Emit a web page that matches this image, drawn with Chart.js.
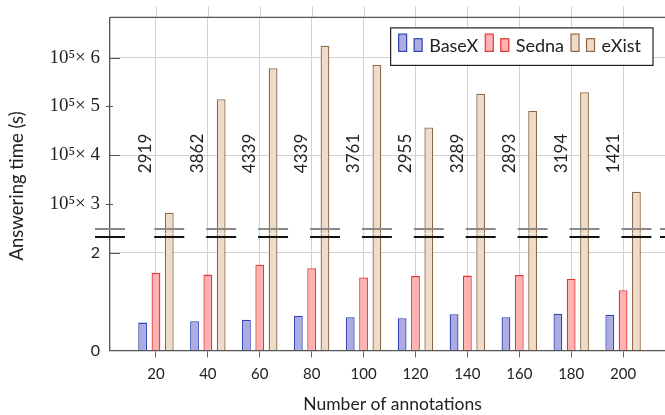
<!DOCTYPE html>
<html>
<head>
<meta charset="utf-8">
<script src="https://cdn.jsdelivr.net/npm/chart.js@4.4.1/dist/chart.umd.min.js"></script>
<style>
  html, body { margin: 0; padding: 0; overflow: hidden; background: #fff; }
  #wrap { width: 676px; height: 415px; position: relative; }
</style>
</head>
<body>
<div id="wrap"><canvas id="timeChart"></canvas></div>
<script>
// values
const annotations = [20, 40, 60, 80, 100, 120, 140, 160, 180, 200];
const basexTimes = [0.57, 0.60, 0.63, 0.71, 0.68, 0.66, 0.74, 0.68, 0.75, 0.73];
const sednaTimes = [1.59, 1.55, 1.75, 1.68, 1.49, 1.52, 1.53, 1.54, 1.46, 1.23];
const existTimes = [283000, 515000, 578000, 624000, 585000, 457000, 526000, 491000, 529000, 326000];
const barNotes = [2919, 3862, 4339, 4339, 3761, 2955, 3289, 2893, 3194, 1421];
const lowTicks = [0, 2];
const highTicks = [300000, 400000, 500000, 600000];

const SANS = 'Lato, "Open Sans", sans-serif';
const SERIF = '"Liberation Serif", "DejaVu Serif", serif';
const TEXT = '#222';
const GRID = '#d2d2d2';
const AXIS = '#555';

const colors = {
  BaseX: { fill: 'rgb(172,172,226)', line: 'rgb(50,70,178)' },
  Sedna: { fill: 'rgb(255,178,178)', line: 'rgb(232,52,52)' },
  eXist: { fill: 'rgb(238,220,200)', line: 'rgb(140,104,70)' }
};

function points(values) {
  return annotations.map((a, i) => ({ x: a, y: values[i] }));
}

function barSet(label, values, axis, stack) {
  return {
    label: label,
    data: points(values),
    yAxisID: axis,
    stack: stack,
    backgroundColor: colors[label].fill,
    borderColor: colors[label].line,
    borderWidth: 1.3,
    categoryPercentage: 0.77,
    barPercentage: 0.66
  };
}

// broken axis extras: frame, break marks, notes, y title, legend
const extras = {
  id: 'extras',
  beforeDatasetDraw(chart, args) {
    const ys = args.meta.yScale;
    const ctx = chart.ctx;
    ctx.save();
    ctx.beginPath();
    ctx.rect(chart.chartArea.left, ys.top, chart.chartArea.right - chart.chartArea.left, ys.bottom - ys.top);
    ctx.clip();
  },
  afterDatasetDraw(chart) {
    chart.ctx.restore();
  },
  afterDraw(chart) {
    const ctx = chart.ctx;
    const area = chart.chartArea;
    const x = chart.scales.x;
    const yLow = chart.scales.yLow;
    const yHigh = chart.scales.yHigh;
    ctx.save();

    // grid stubs above the frame
    ctx.strokeStyle = GRID;
    ctx.lineWidth = 1;
    annotations.forEach(a => {
      const px = Math.round(x.getPixelForValue(a)) + 0.5;
      ctx.beginPath();
      ctx.moveTo(px, area.top - 11);
      ctx.lineTo(px, area.top);
      ctx.stroke();
    });

    // top frame
    ctx.strokeStyle = AXIS;
    ctx.lineWidth = 1.3;
    ctx.beginPath();
    ctx.moveTo(area.left, area.top);
    ctx.lineTo(area.right, area.top);
    ctx.stroke();

    // inner tick marks
    ctx.lineWidth = 1;
    highTicks.forEach(v => {
      const py = Math.round(yHigh.getPixelForValue(v)) + 0.5;
      const len = v % 200000 === 0 ? 10 : 3;
      ctx.beginPath();
      ctx.moveTo(area.left, py);
      ctx.lineTo(area.left + len, py);
      ctx.stroke();
    });
    lowTicks.filter(v => v > 0).forEach(v => {
      const py = Math.round(yLow.getPixelForValue(v)) + 0.5;
      ctx.beginPath();
      ctx.moveTo(area.left, py);
      ctx.lineTo(area.left + 10, py);
      ctx.stroke();
    });

    // break marks
    const existBars = chart.getDatasetMeta(3).data;
    const breakXs = [area.left].concat(existBars.map(b => b.x), [area.right]);
    const yTop = Math.round(yLow.top) - 4;
    const yBottom = Math.round(yLow.top) + 4;
    ctx.lineWidth = 2;
    breakXs.forEach(bx => {
      ctx.strokeStyle = '#8a8a8a';
      ctx.beginPath();
      ctx.moveTo(bx - 15, yTop);
      ctx.lineTo(bx + 15, yTop);
      ctx.stroke();
      ctx.strokeStyle = '#111';
      ctx.beginPath();
      ctx.moveTo(bx - 15, yBottom);
      ctx.lineTo(bx + 15, yBottom);
      ctx.stroke();
    });

    // rotated notes
    ctx.fillStyle = TEXT;
    ctx.font = '17px ' + SANS;
    ctx.textAlign = 'center';
    ctx.textBaseline = 'middle';
    annotations.forEach((a, i) => {
      ctx.save();
      ctx.translate(x.getPixelForValue(a) - 10, yHigh.getPixelForValue(400000) - 2);
      ctx.rotate(-Math.PI / 2);
      ctx.fillText(String(barNotes[i]), 0, 0);
      ctx.restore();
    });

    // y title spanning both parts
    ctx.save();
    ctx.font = '18.5px ' + SANS;
    ctx.translate(17, (area.top + area.bottom) / 2 + 2);
    ctx.rotate(-Math.PI / 2);
    ctx.fillText('Answering time (s)', 0, 0);
    ctx.restore();

    // legend
    const entries = chart.data.datasets.slice(0, 3);
    ctx.font = '18px ' + SANS;
    let w = 8;
    entries.forEach(d => { w += 8 + 7.5 + 8 + 7 + ctx.measureText(d.label).width + 7; });
    w += 5;
    const boxRight = area.right - 22;
    const boxTop = area.top + 10.5;
    const boxLeft = boxRight - w;
    const boxH = 37.5;
    ctx.fillStyle = '#fff';
    ctx.fillRect(boxLeft, boxTop, w, boxH);
    ctx.strokeStyle = '#222';
    ctx.lineWidth = 1.2;
    ctx.strokeRect(boxLeft, boxTop, w, boxH);
    let cx = boxLeft + 8;
    const base = boxTop + 23.5;
    ctx.textAlign = 'left';
    entries.forEach(d => {
      ctx.fillStyle = d.backgroundColor;
      ctx.strokeStyle = d.borderColor;
      ctx.lineWidth = 1.2;
      ctx.fillRect(cx, base - 17.3, 8, 17.3);
      ctx.strokeRect(cx, base - 17.3, 8, 17.3);
      cx += 15.5;
      ctx.fillRect(cx, base - 12.7, 8, 12.7);
      ctx.strokeRect(cx, base - 12.7, 8, 12.7);
      cx += 15;
      ctx.fillStyle = TEXT;
      ctx.fillText(d.label, cx, boxTop + 18.5);
      cx += ctx.measureText(d.label).width + 7;
    });
    ctx.restore();
  }
};

new Chart(document.getElementById('timeChart'), {
  type: 'bar',
  data: {
    datasets: [
      barSet('BaseX', basexTimes, 'yLow', 'basex'),
      barSet('Sedna', sednaTimes, 'yLow', 'sedna'),
      barSet('eXist', existTimes, 'yLow', 'exist'),
      barSet('eXist', existTimes, 'yHigh', 'exist')
    ]
  },
  options: {
    responsive: true,
    maintainAspectRatio: false,
    animation: false,
    layout: { padding: { top: 16, right: 1, left: 0, bottom: 0 } },
    plugins: {
      legend: { display: false },
      tooltip: { enabled: false }
    },
    scales: {
      x: {
        type: 'linear',
        offset: false,
        min: 2.3,
        max: 220,
        afterBuildTicks: s => { s.ticks = annotations.map(v => ({ value: v })); },
        afterFit: s => { s.height = 64.5; },
        grid: { offset: false, color: GRID, tickColor: '#666', tickLength: 7, lineWidth: 1 },
        border: { color: AXIS, width: 1.3 },
        ticks: { font: { family: SANS, size: 15 }, color: TEXT, padding: 8, maxRotation: 0, autoSkip: false },
        title: { display: true, text: 'Number of annotations', font: { family: SANS, size: 17.5 }, color: TEXT, padding: { top: 2, bottom: 0 } }
      },
      yLow: {
        type: 'linear',
        position: 'left',
        stack: 'time',
        stackWeight: 117.5,
        stacked: false,
        min: 0,
        max: 2.39,
        afterBuildTicks: s => { s.ticks = lowTicks.map(v => ({ value: v })); },
        afterFit: s => { s.width = 110; },
        grid: { color: c => (c.tick && c.tick.value === 0 ? 'rgba(0,0,0,0)' : GRID), tickColor: 'rgba(0,0,0,0)', tickLength: 4 },
        border: { color: AXIS, width: 1.3 },
        ticks: { font: { family: SANS, size: 16 }, color: TEXT, padding: 6 }
      },
      yHigh: {
        type: 'linear',
        position: 'left',
        stack: 'time',
        stackWeight: 217,
        stacked: false,
        min: 240500,
        max: 682000,
        afterBuildTicks: s => { s.ticks = highTicks.map(v => ({ value: v })); },
        afterFit: s => { s.width = 110; },
        grid: {
          color: c => (c.tick && c.tick.value % 200000 === 0 ? GRID : 'rgba(0,0,0,0)'),
          tickColor: c => (c.tick && c.tick.value % 200000 === 0 ? 'rgba(0,0,0,0)' : AXIS),
          tickLength: 4
        },
        border: { color: AXIS, width: 1.3 },
        ticks: {
          font: { family: SERIF, size: 19 },
          color: TEXT,
          padding: 6,
          callback: v => '10\u2075\u00d7 ' + v / 100000
        }
      }
    }
  },
  plugins: [extras]
});
</script>
</body>
</html>
